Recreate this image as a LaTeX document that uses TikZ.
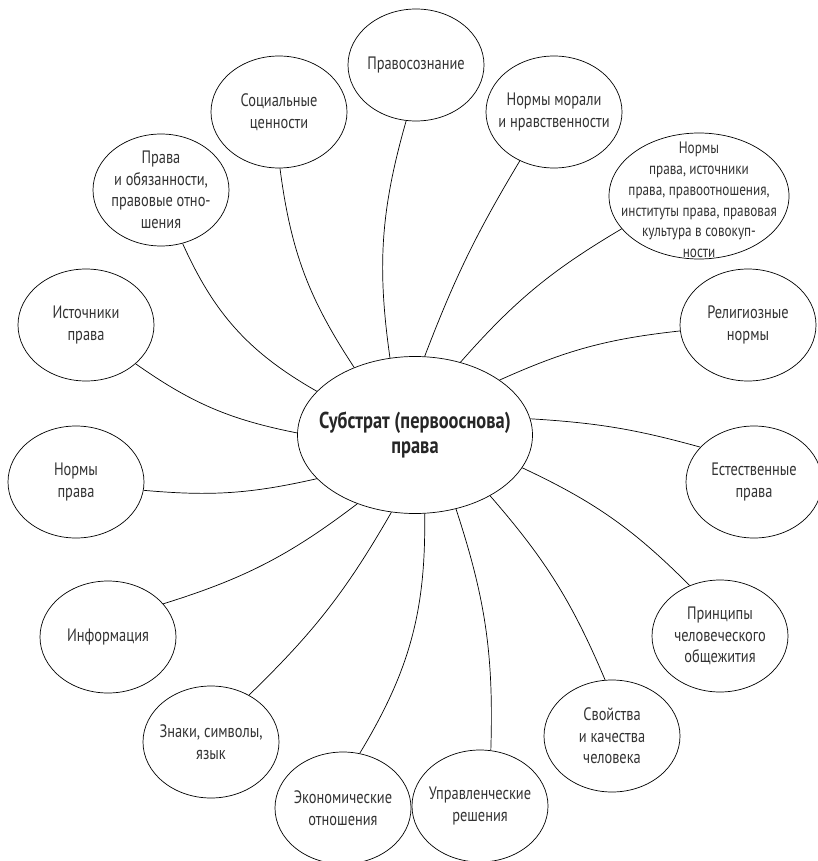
\documentclass[tikz,border=0pt]{standalone}
\usepackage{fontspec}
\setmainfont{PT Sans}[FakeStretch=0.8]
\usetikzlibrary{shapes.geometric}

\tikzset{
  idea/.style={draw, ellipse, line width=0.7pt, inner sep=0pt,
    minimum width=136pt, minimum height=112pt,
    label={[align=center, text=black!80, font=\fontsize{18}{21.5}\selectfont]center:#1}},
  bigidea/.style={idea, minimum width=180pt, minimum height=126pt,
    label={[align=center, text=black!80, font=\fontsize{16.5}{20.7}\selectfont, yshift=-4pt]center:#1}},
  coreidea/.style={draw, ellipse, line width=0.7pt, inner sep=0pt,
    minimum width=235pt, minimum height=157pt,
    label={[align=center, text=black!85, font=\bfseries\fontsize{23}{25}\selectfont]center:#1}},
  link/.style={line width=0.7pt},
}

\begin{document}
\begin{tikzpicture}[x=1pt, y=-1pt]
  \useasboundingbox (0,0) rectangle (818,861);

  % centre
  \node[coreidea={Субстрат (первооснова)\\права}] (core) at (415,435) {};

  % upper half
  \node[idea={Правосознание}] (pravosozn) at (416,65) {};
  \node[idea={Социальные\\ценности}] (socval) at (279,112) {};
  \node[idea={Нормы морали\\и нравственности}] (moral) at (554,112) {};
  \node[bigidea={Нормы\\права, источники\\права, правоотношения,\\институты права, правовая\\культура в совокуп-\\ности}] (normset) at (699,196) {};
  \node[idea={Права\\и обязанности,\\правовые отно-\\шения}] (rights) at (161,190) {};
  \node[idea={Источники\\права}] (sources) at (86,325) {};
  \node[idea={Религиозные\\нормы}] (relig) at (748,325) {};

  % lower half
  \node[idea={Нормы\\права}] (lawnorms) at (76,482) {};
  \node[idea={Естественные\\права}] (natural) at (754,482) {};
  \node[idea={Информация}] (info) at (108,637) {};
  \node[idea={Принципы\\человеческого\\общежития}] (principles) at (720,636) {};
  \node[idea={Знаки, символы,\\язык}] (signs) at (211,742) {};
  \node[idea={Свойства\\и качества\\человека}] (traits) at (612,736) {};
  \node[idea={Экономические\\отношения}] (econ) at (343,808) {};
  \node[idea={Управленческие\\решения}] (manage) at (480,806) {};

  % connectors
  \draw[link] (pravosozn.-100) to[bend right=12] (core.108);
  \draw[link] (socval.-89) to[bend right=13] (core.132);
  \draw[link] (moral.-125) to[bend right=5] (core.83);
  \draw[link] (normset.-157) to[bend right=9] (core.58);
  \draw[link] (rights.-68) to[bend right=18] (core.156);
  \draw[link] (sources.-38) to[bend right=12] (core.179);
  \draw[link] (relig.-175) to[bend right=9] (core.33);
  \draw[link] (lawnorms.-7) to[bend right=9] (core.-156);
  \draw[link] (natural.147) to[bend right=6] (core.8);
  \draw[link] (info.31) to[bend right=10] (core.-130);
  \draw[link] (principles.121) to[bend right=10] (core.-17);
  \draw[link] (signs.51) to[bend right=8] (core.-107);
  \draw[link] (traits.97) to[bend right=9] (core.-39);
  \draw[link] (econ.73) to[bend right=16] (core.-83);
  \draw[link] (manage.79) to[bend right=10] (core.-61);
\end{tikzpicture}
\end{document}
